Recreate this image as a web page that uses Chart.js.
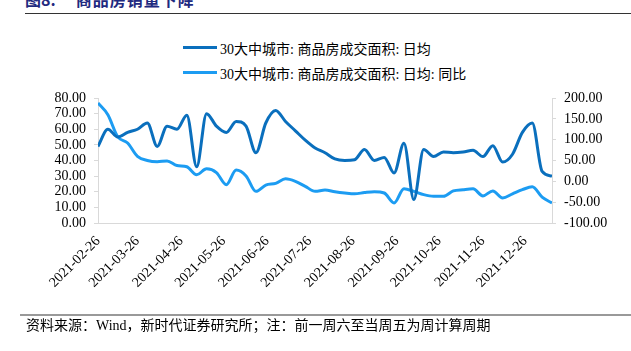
<!DOCTYPE html>
<html>
<head>
<meta charset="utf-8">
<script src="https://cdn.jsdelivr.net/npm/chart.js@4/dist/chart.umd.min.js"></script>
<style>
  body { margin: 0; background: #fff; }
  #wrap { position: relative; width: 631px; height: 351px; overflow: hidden; font-family: "Liberation Serif", "Noto Sans CJK SC", serif; }
  #title { position: absolute; left: 25px; top: -9px; font-size: 16px; line-height: 16px; font-weight: bold; color: #1f2a80; white-space: nowrap; font-family: "Noto Sans CJK SC", sans-serif; }
  #title span { margin-left: 20px; letter-spacing: 1px; }
  #ruleTop { position: absolute; left: 25px; right: 0; top: 13px; height: 1px; background: #333; }
  #legend { position: absolute; left: 183px; top: 35px; font-size: 14px; color: #000; }
  .item { height: 25px; display: flex; align-items: center; white-space: nowrap; }
  .swatch { width: 34px; height: 3px; margin-right: 3px; }
  #ruleBottom { position: absolute; left: 20px; right: 0; top: 314px; height: 2px; background: #999; }
  #source { position: absolute; left: 26px; top: 317px; font-size: 14px; line-height: 18px; color: #000; white-space: nowrap; }
  canvas { position: absolute; left: 0; top: 0; }
</style>
</head>
<body>
<div id="wrap">
  <div id="title">图8:<span>商品房销量下降</span></div>
  <div id="ruleTop"></div>
  <div id="legend"></div>
  <canvas id="c" width="631" height="351"></canvas>
  <div id="ruleBottom"></div>
  <div id="source">资料来源：Wind，新时代证券研究所；注：前一周六至当周五为周计算周期</div>
</div>
<script>
// weekly dates (Fridays)
const weeks = [
  '2021-02-26','2021-03-05','2021-03-12','2021-03-19','2021-03-26','2021-04-02','2021-04-09','2021-04-16',
  '2021-04-23','2021-04-30','2021-05-07','2021-05-14','2021-05-21','2021-05-28','2021-06-04','2021-06-11',
  '2021-06-18','2021-06-25','2021-07-02','2021-07-09','2021-07-16','2021-07-23','2021-07-30','2021-08-06',
  '2021-08-13','2021-08-20','2021-08-27','2021-09-03','2021-09-10','2021-09-17','2021-09-24','2021-10-01',
  '2021-10-08','2021-10-15','2021-10-22','2021-10-29','2021-11-05','2021-11-12','2021-11-19','2021-11-26',
  '2021-12-03','2021-12-10','2021-12-17','2021-12-24','2021-12-31','2022-01-07','2022-01-14'
];

// 30大中城市: 商品房成交面积: 日均 (万平方米)
const dailyArea = [
  49, 60, 55, 58, 60, 64, 49, 62, 60, 69, 36, 70, 62, 58, 65, 62,
  45, 64, 72, 65, 59, 53, 48, 45, 41, 40, 40.5, 47, 40, 42, 32, 51,
  15, 47, 42.5, 45.5, 45, 45.5, 46.5, 42.5, 49.5, 39, 44, 58, 64, 33, 30
];

// 同比 (%)
const dailyAreaYoy = [
  188, 160, 107, 92, 60, 50, 47, 49, 38, 35, 16, 30, 21, -8, 27, 13,
  -24, -9, -5, 6, 0, -12, -24, -21, -25, -28, -30, -27, -25, -28, -52, -18,
  -24, -32, -36, -36, -23, -20, -18, -35, -23, -40, -30, -20, -13, -38, -52
];

const tickDates = [
  '2021-02-26','2021-03-26','2021-04-26','2021-05-26','2021-06-26','2021-07-26',
  '2021-08-26','2021-09-26','2021-10-26','2021-11-26','2021-12-26'
];

const seriesNames = ['30大中城市: 商品房成交面积: 日均', '30大中城市: 商品房成交面积: 日均: 同比'];
const colors = ['#0a6fbd', '#1c9cf2'];

const toDay = s => Date.parse(s + 'T00:00:00Z') / 86400000;
const dayLabel = {};
tickDates.forEach(d => { dayLabel[toDay(d)] = d; });

const pts = arr => arr.map((v, i) => ({ x: toDay(weeks[i]), y: v }));

const serif = "'Liberation Serif', 'Times New Roman', serif";
const axisGray = '#d9d9d9';

const chart = new Chart(document.getElementById('c'), {
  type: 'line',
  data: {
    datasets: [
      { label: seriesNames[0], data: pts(dailyArea), yAxisID: 'y', borderColor: colors[0], backgroundColor: colors[0] },
      { label: seriesNames[1], data: pts(dailyAreaYoy), yAxisID: 'y1', borderColor: colors[1], backgroundColor: colors[1] }
    ]
  },
  options: {
    responsive: false,
    animation: false,
    devicePixelRatio: 1,
    layout: { padding: { top: 98, bottom: 0, left: 0, right: 0 } },
    elements: {
      line: { borderWidth: 3, tension: 0.4, cubicInterpolationMode: 'monotone' },
      point: { radius: 0 }
    },
    plugins: { legend: { display: false }, tooltip: { enabled: false } },
    scales: {
      x: {
        type: 'linear',
        min: toDay(weeks[0]),
        max: toDay(weeks[weeks.length - 1]),
        afterBuildTicks: s => { s.ticks = tickDates.map(d => ({ value: toDay(d) })); },
        afterFit: s => { s.height = 128; },
        grid: { display: false, drawTicks: false },
        border: { display: true, color: axisGray },
        ticks: {
          autoSkip: false, minRotation: 45, maxRotation: 45, padding: 10,
          color: '#000', font: { family: serif, size: 14 },
          callback: v => dayLabel[v] || ''
        }
      },
      y: {
        position: 'left', min: 0, max: 80,
        afterFit: s => { s.width = 98; },
        grid: { drawOnChartArea: false, color: axisGray, tickLength: 4 },
        border: { display: true, color: axisGray },
        ticks: { stepSize: 10, autoSkip: false, color: '#000', padding: 8, font: { family: serif, size: 14 }, callback: v => v.toFixed(2) }
      },
      y1: {
        position: 'right', min: -100, max: 200,
        afterFit: s => { s.width = 79; },
        grid: { drawOnChartArea: false, color: axisGray, tickLength: 4 },
        border: { display: true, color: axisGray },
        ticks: { stepSize: 50, autoSkip: false, color: '#000', padding: 8, font: { family: serif, size: 14 }, callback: v => v.toFixed(2) }
      }
    }
  }
});

// legend built from the datasets
const legend = document.getElementById('legend');
chart.data.datasets.forEach(ds => {
  const row = document.createElement('div');
  row.className = 'item';
  row.innerHTML = '<div class="swatch" style="background:' + ds.borderColor + '"></div><span>' + ds.label + '</span>';
  legend.appendChild(row);
});
</script>
</body>
</html>
